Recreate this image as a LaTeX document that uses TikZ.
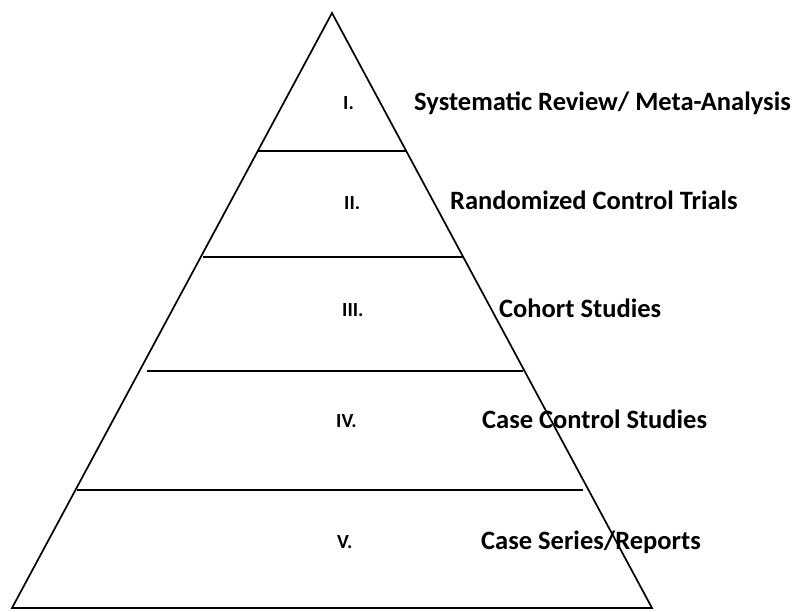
\documentclass[tikz,border=0pt]{standalone}
\usepackage{fontspec}
\setmainfont{Carlito}
\begin{document}
\begin{tikzpicture}[x=1pt,y=-1pt,
  side/.style={line width=1.7pt,line join=miter},
  divider/.style={line width=2.6pt},
  numeral/.style={anchor=base west,inner sep=0pt,font=\fontsize{20}{22}\selectfont\bfseries},
  lbl/.style={anchor=base west,inner sep=0pt,font=\fontsize{26.5}{29}\selectfont\bfseries}]
\useasboundingbox[fill=white] (0,0) rectangle (794,612);
\coordinate (apex) at (332,13);
\coordinate (bl) at (12,608);
\coordinate (br) at (652,608);
\draw[side] (bl) -- (apex) -- (br) -- cycle;
\coordinate (d1l) at (257,151); \coordinate (d1r) at (407,151);
\coordinate (d2l) at (203,257); \coordinate (d2r) at (464,257);
\coordinate (d3l) at (147,371); \coordinate (d3r) at (523,371);
\coordinate (d4l) at (77,490);  \coordinate (d4r) at (583,490);
\draw[divider] (d1l) -- (d1r);
\draw[divider] (d2l) -- (d2r);
\draw[divider] (d3l) -- (d3r);
\draw[divider] (d4l) -- (d4r);
\node[numeral] (n1) at (343,110) {I.};
\node[numeral] (n2) at (344,210) {II.};
\node[numeral] (n3) at (342,316) {III.};
\node[numeral] (n4) at (336,427) {IV.};
\node[numeral] (n5) at (337,548) {V.};
\node[lbl] (l1) at (414,111) {Systematic Review/ Meta-Analysis};
\node[lbl] (l2) at (450,210) {Randomized Control Trials};
\node[lbl] (l3) at (499,317) {Cohort Studies};
\node[lbl] (l4) at (482,428) {Case Control Studies};
\node[lbl] (l5) at (481,549) {Case Series/Reports};
\end{tikzpicture}
\end{document}
